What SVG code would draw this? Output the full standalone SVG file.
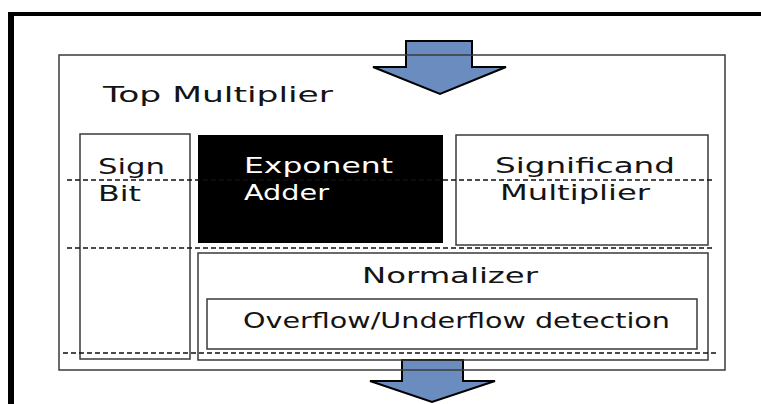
<svg xmlns="http://www.w3.org/2000/svg" width="761" height="404" viewBox="0 0 761 404">
<style>
.box{fill:none;stroke:#3a3a3a;stroke-width:1.5}
.arrow{fill:#6a8cbe;stroke:#000;stroke-width:2;stroke-linejoin:miter}
.dash{stroke:#111;stroke-width:1.5;stroke-dasharray:5 3;fill:none}
.t{font-family:"DejaVu Sans","Liberation Sans",sans-serif;font-size:22px;fill:#141414}
.w{fill:#fff}
</style>
<rect width="761" height="404" fill="#fff"/>
<g id="frame">
<rect x="8" y="12" width="753" height="4" fill="#000"/>
<rect x="8" y="12" width="6" height="392" fill="#000"/>
</g>
<g id="connectors">
<polygon class="arrow" points="406,41 472,41 472,67 506,67 440,94 373,67 406,67"/>
<polygon class="arrow" points="402,360 463,360 463,381 495,381 432,402 370,381 402,381"/>
</g>
<g id="top-multiplier">
<rect class="box" x="59" y="55" width="666" height="315"/>
<text class="t" x="103" y="102" textLength="230" lengthAdjust="spacingAndGlyphs">Top Multiplier</text>
</g>
<g id="sign-bit">
<rect class="box" x="80" y="134" width="110" height="225" stroke="#555"/>
<text class="t" x="98" y="174" textLength="67" lengthAdjust="spacingAndGlyphs">Sign</text>
<text class="t" x="98" y="201" textLength="43" lengthAdjust="spacingAndGlyphs">Bit</text>
</g>
<g id="exponent-adder">
<rect x="198" y="135" width="245" height="108" fill="#000"/>
<text class="t w" x="244" y="173" textLength="149" lengthAdjust="spacingAndGlyphs">Exponent</text>
<text class="t w" x="244" y="200" textLength="85" lengthAdjust="spacingAndGlyphs">Adder</text>
</g>
<g id="significand-multiplier">
<rect class="box" x="456" y="135" width="252" height="110"/>
<text class="t" x="495" y="173" textLength="180" lengthAdjust="spacingAndGlyphs">Significand</text>
<text class="t" x="500" y="200" textLength="150" lengthAdjust="spacingAndGlyphs">Multiplier</text>
</g>
<g id="normalizer">
<rect class="box" x="198" y="253" width="510" height="107"/>
<text class="t" x="362" y="283" textLength="176" lengthAdjust="spacingAndGlyphs">Normalizer</text>
</g>
<g id="overflow-detection">
<rect class="box" x="207" y="299" width="490" height="50"/>
<text class="t" x="243" y="328" textLength="427" lengthAdjust="spacingAndGlyphs">Overflow/Underflow detection</text>
</g>
<g id="dividers">
<line class="dash" x1="67" y1="180" x2="714" y2="180"/>
<line class="dash" x1="67" y1="248" x2="714" y2="248"/>
<line class="dash" x1="63" y1="353" x2="719" y2="353"/>
</g>
</svg>
